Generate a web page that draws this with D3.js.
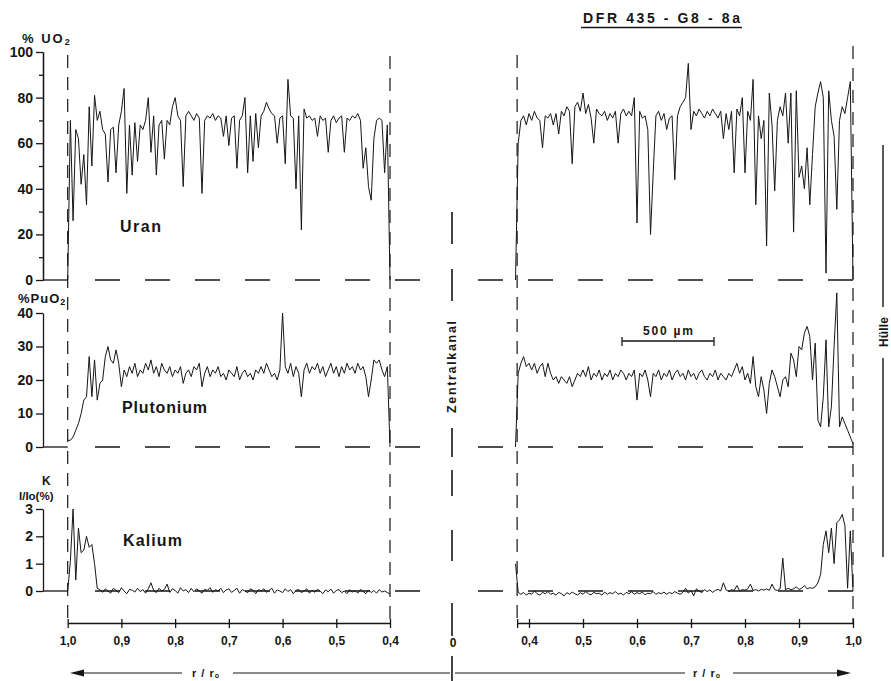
<!DOCTYPE html>
<html>
<head>
<meta charset="utf-8">
<script src="https://cdn.jsdelivr.net/npm/d3@7"></script>
<style>
  body { margin: 0; background: #fff; }
  svg text { font-family: "Liberation Sans", Arial, sans-serif; font-weight: bold; fill: #161616; }
</style>
</head>
<body>
<svg id="chart" width="891" height="681"></svg>
<script>
// Microprobe scans across the fuel pellet cross-section (DFR 435 - G8 - 8a).
// Each scan is sampled at a fixed step of r/r0; left half runs from the rim (1,0)
// inwards to 0,4, right half runs from the central channel edge out to the rim.
const scanStep = 0.005;
const leftStart = 1.0;
const rightStart = 0.375;

// % UO2 (Uran)
const uranLeft = [
  0, 70, 26, 66, 62, 42, 55, 33, 76, 50,
  81, 70, 74, 66, 64, 43, 66, 67, 47, 68,
  74, 84, 38, 68, 46, 69, 52, 68, 66, 70,
  80, 56, 72, 46, 68, 70, 53, 70, 68, 76,
  80, 72, 70, 41, 72, 74, 72, 70, 73, 71,
  38, 70, 72, 71, 73, 70, 72, 71, 63, 72,
  59, 71, 72, 49, 70, 72, 80, 47, 72, 52,
  73, 58, 72, 74, 78, 75, 73, 72, 60, 71,
  72, 51, 88, 72, 71, 40, 72, 22, 75, 71,
  72, 70, 71, 63, 72, 70, 71, 56, 70, 72,
  69, 71, 72, 56, 71, 70, 72, 71, 73, 70,
  49, 58, 41, 35, 62, 70, 71, 70, 47, 68,
  0
];
const uranRight = [
  0, 60, 70, 72, 68, 73, 70, 74, 71, 70,
  58, 72, 71, 73, 68, 73, 64, 74, 72, 76,
  74, 51, 76, 78, 74, 82, 73, 77, 71, 60,
  75, 73, 72, 74, 70, 73, 71, 74, 60, 73,
  75, 72, 74, 72, 80, 25, 74, 71, 72, 66,
  20, 47, 72, 74, 70, 73, 66, 71, 72, 44,
  72, 76, 78, 80, 95, 66, 74, 72, 75, 73,
  71, 74, 72, 75, 73, 71, 74, 62, 73, 66,
  74, 47, 75, 72, 80, 47, 74, 70, 88, 33,
  72, 62, 70, 15, 82, 68, 39, 70, 76, 72,
  82, 60, 82, 21, 83, 45, 50, 40, 58, 33,
  55, 76, 82, 87, 80, 3, 83, 70, 63, 31,
  70, 76, 73, 80, 87, 0
];

// % PuO2 (Plutonium)
const plutLeft = [
  2, 2, 3, 5, 7, 10, 14, 15, 27, 15,
  26, 14, 19, 20, 27, 30, 26, 25, 29, 25,
  18, 23, 21, 24, 22, 25, 21, 23, 22, 25,
  23, 26, 22, 24, 21, 25, 23, 22, 24, 21,
  23, 22, 24, 19, 22, 23, 21, 24, 23, 25,
  18, 22, 24, 21, 23, 22, 24, 21, 22, 20,
  23, 22, 21, 24, 20, 22, 23, 21, 22, 20,
  23, 22, 24, 22, 25, 23, 21, 22, 20, 23,
  40, 24, 22, 25, 21, 24, 22, 15, 23, 25,
  22, 24, 23, 25, 22, 24, 21, 23, 25, 22,
  24, 21, 24, 22, 25, 23, 24, 22, 25, 23,
  24, 21, 15, 20, 26, 25, 26, 23, 21, 24,
  0
];
const plutRight = [
  0, 22, 25, 27, 24, 25, 23, 25, 22, 24,
  25, 21, 25, 22, 20, 21, 19, 21, 20, 19,
  21, 18, 20, 22, 21, 23, 21, 24, 20, 22,
  21, 23, 20, 22, 21, 23, 20, 22, 21, 23,
  22, 20, 22, 21, 23, 14, 22, 21, 23, 20,
  15, 22, 21, 23, 20, 22, 21, 23, 20, 22,
  23, 21, 22, 20, 23, 21, 22, 20, 22, 23,
  21, 20, 22, 21, 23, 20, 22, 21, 20, 22,
  21, 23, 25, 22, 24, 20, 22, 19, 27, 18,
  15, 21, 17, 10, 19, 23, 21, 18, 15, 20,
  21, 18, 28, 26, 21, 30, 29, 34, 36, 33,
  20, 31, 8, 6, 15, 32, 6, 12, 30, 46,
  6, 9, 7, 5, 3, 1
];

// K, I/Io (%) (Kalium)
const kalLeft = [
  0, 1.1, 3.0, 0.4, 2.3, 1.4, 1.5, 2.0, 1.6, 1.7, 1.0, 0.1,
  0.05, -0.05, 0.08, 0.0, -0.08, 0.1, 0.02, -0.06, 0.12, 0.0,
  -0.1, 0.06, 0.03, -0.04, 0.1, -0.02, 0.05, -0.08, 0.08, 0.3,
  0.02, -0.06, 0.1, 0.0, 0.06, 0.25, -0.05, 0.08, 0.02, -0.08,
  0.12, 0.0, 0.05, -0.06, 0.1, -0.03, 0.08, 0.0, -0.08, 0.06,
  0.02, 0.12, -0.05, 0.05, 0.0, 0.1, -0.06, 0.04, 0.08, -0.05,
  0.02, 0.1, -0.08, 0.05, 0.0, -0.06, 0.08, 0.03, -0.1, 0.05,
  0.0, 0.08, -0.05, 0.02, 0.1, -0.08, 0.04, 0.0, -0.06, 0.08,
  -0.02, 0.05, -0.1, 0.02, 0.06, -0.06, 0.0, 0.08, -0.08, 0.03,
  -0.05, 0.06, 0.0, -0.1, 0.04, -0.03, 0.07, -0.08, 0.02, 0.05,
  -0.06, 0.0, -0.1, 0.05, -0.04, 0.02, -0.08, 0.06, -0.02, -0.1,
  0.04, -0.06, 0.02, -0.08, 0.05, -0.04, 0.0, -0.06, -0.1
];
const kalRight = [
  1.0,
  -0.05, -0.12, -0.05, -0.15, -0.08, -0.12, 0.0, -0.1, -0.15, -0.05,
  -0.1, -0.02, -0.12, -0.08, -0.15, -0.05, -0.1, -0.18, -0.06, -0.12,
  -0.04, -0.1, -0.15, -0.06, -0.12, -0.02, -0.1, -0.14, -0.05, -0.1,
  -0.08, -0.15, -0.04, -0.12, -0.06, -0.1, -0.02, -0.12, -0.08, -0.15,
  -0.05, -0.1, -0.03, -0.12, -0.06, -0.1, -0.04, -0.14, -0.08, -0.1,
  -0.02, -0.12, -0.06, -0.1, -0.04, -0.12, -0.05, -0.1, -0.02, -0.08,
  -0.12, -0.05, 0.1, -0.08, 0.02, -0.18, 0.08, 0.0, -0.06, 0.05,
  -0.02, 0.04, -0.05, 0.02, 0.06, 0.0, 0.3, 0.04, -0.02, 0.05,
  0.02, 0.2, 0.0, 0.05, 0.03, 0.08, 0.25, 0.02, 0.05, 0.0,
  0.06, 0.03, 0.08, 0.02, 0.25, 0.05, 0.02, 0.08, 1.2, 0.05,
  0.1, 0.05, 0.08, 0.15, 0.06, 0.1, 0.2, 0.08, 0.12, 0.1,
  0.15, 0.3, 0.6, 1.7, 2.2, 1.4, 2.3, 1.0, 2.5, 2.6,
  2.8, 2.4, 0.1, 2.2, 0.0
];

// Axis ticks
const uranTicks = [0, 20, 40, 60, 80, 100];
const uranMinor = [10, 30, 50, 70, 90];
const plutTicks = [0, 10, 20, 30, 40];
const kalTicks = [0, 1, 2, 3];
const leftRTicks = [1.0, 0.9, 0.8, 0.7, 0.6, 0.5, 0.4];
const rightRTicks = [0.4, 0.5, 0.6, 0.7, 0.8, 0.9, 1.0];
const channelEdge = 0.378;

const ink = "#161616";
const svg = d3.select("#chart");
const commaFmt = d3.formatLocale({decimal: ",", thousands: ".", grouping: [3], currency: ["", ""]}).format(".1f");
const intFmt = d3.format("d");

const xL = d3.scaleLinear().domain([1.0, 0.4]).range([67.7, 390]);
const xR = d3.scaleLinear().domain([0.4, 1.0]).range([529, 853]);

const panels = [
  {name: "Uran", left: uranLeft, right: uranRight, ticks: uranTicks, minor: uranMinor,
   y: d3.scaleLinear().domain([0, 100]).range([280, 52]), label: [120, 232, 41]},
  {name: "Plutonium", left: plutLeft, right: plutRight, ticks: plutTicks, minor: [],
   y: d3.scaleLinear().domain([0, 40]).range([447, 313]), label: [122, 413, 85]},
  {name: "Kalium", left: kalLeft, right: kalRight, ticks: kalTicks, minor: [],
   y: d3.scaleLinear().domain([0, 3]).range([591, 509]), label: [123, 546, 59]}
];

function styleAxis(g, size) {
  g.select(".domain").attr("stroke", ink).attr("stroke-width", 1.3);
  g.selectAll(".tick line").attr("stroke", ink).attr("stroke-width", 1.3);
  g.selectAll(".tick text").attr("font-size", size).attr("fill", ink)
    .attr("font-family", "'Liberation Sans', Arial, sans-serif").attr("font-weight", "bold");
}

// Vertical dashed boundaries: rim and inner scan limits
[[xL(1.0), 55], [xL(0.4), 56], [xR(channelEdge), 55], [xR(1.0), 46]].forEach(([x, top]) => {
  svg.append("line").attr("x1", x).attr("x2", x).attr("y1", top).attr("y2", 623)
    .attr("stroke", ink).attr("stroke-width", 1.2).attr("stroke-dasharray", "13,9");
});

panels.forEach(p => {
  const y0 = p.y(0);
  // y axis
  const ax = svg.append("g").attr("transform", "translate(43,0)")
    .call(d3.axisLeft(p.y).tickValues(p.ticks).tickFormat(intFmt).tickSize(7).tickPadding(3).tickSizeOuter(0));
  styleAxis(ax, 14);
  if (p.minor.length) {
    const mx = svg.append("g").attr("transform", "translate(43,0)")
      .call(d3.axisLeft(p.y).tickValues(p.minor).tickSize(4).tickFormat("").tickSizeOuter(0));
    styleAxis(mx, 14);
  }
  // zero reference: solid to the rim, dashed across the section
  svg.append("line").attr("x1", 43).attr("x2", xL(1.0)).attr("y1", y0).attr("y2", y0)
    .attr("stroke", ink).attr("stroke-width", 1.3);
  svg.append("line").attr("x1", 95).attr("x2", 420).attr("y1", y0).attr("y2", y0)
    .attr("stroke", ink).attr("stroke-width", 1.3).attr("stroke-dasharray", "25,25");
  svg.append("line").attr("x1", 478).attr("x2", 858).attr("y1", y0).attr("y2", y0)
    .attr("stroke", ink).attr("stroke-width", 1.3).attr("stroke-dasharray", "25,25");

  // scan traces
  const lineL = d3.line().x((d, i) => xL(leftStart - i * scanStep)).y(d => p.y(d));
  const lineR = d3.line().x((d, i) => xR(rightStart + i * scanStep)).y(d => p.y(d));
  svg.append("path").datum(p.left).attr("d", lineL).attr("fill", "none")
    .attr("stroke", ink).attr("stroke-width", 1).attr("stroke-linejoin", "round");
  svg.append("path").datum(p.right).attr("d", lineR).attr("fill", "none")
    .attr("stroke", ink).attr("stroke-width", 1).attr("stroke-linejoin", "round");

  svg.append("text").attr("x", p.label[0]).attr("y", p.label[1]).attr("font-size", 16)
    .attr("textLength", p.label[2]).attr("lengthAdjust", "spacing").text(p.name);
});

// x axes (r/r0)
const axL = svg.append("g").attr("transform", "translate(0,623)")
  .call(d3.axisBottom(xL).tickValues(leftRTicks).tickFormat(commaFmt).tickSize(5).tickPadding(8).tickSizeOuter(0));
styleAxis(axL, 12);
axL.selectAll(".tick line").attr("y1", -4);
const xRaxis = xR.copy().domain([channelEdge, 1.0]).range([xR(channelEdge), xR(1.0)]);
const axR = svg.append("g").attr("transform", "translate(0,623)")
  .call(d3.axisBottom(xRaxis).tickValues([channelEdge].concat(rightRTicks))
    .tickFormat(d => d === channelEdge ? "" : commaFmt(d)).tickSize(5).tickPadding(8).tickSizeOuter(0));
styleAxis(axR, 12);
axR.selectAll(".tick line").attr("y1", -4);
svg.append("text").attr("x", 453).attr("y", 647).attr("font-size", 12).attr("text-anchor", "middle").text("0");

// y-axis titles
const uo = svg.append("text").attr("x", 22).attr("y", 43).attr("font-size", 13);
uo.append("tspan").text("% UO").attr("letter-spacing", 2);
uo.append("tspan").text("2").attr("font-size", 9).attr("dy", 2);
const pu = svg.append("text").attr("x", 18).attr("y", 303).attr("font-size", 13);
pu.append("tspan").text("%PuO").attr("letter-spacing", 1);
pu.append("tspan").text("2").attr("font-size", 9).attr("dy", 2);
svg.append("text").attr("x", 42).attr("y", 485).attr("font-size", 12).text("K");
svg.append("text").attr("x", 19).attr("y", 500).attr("font-size", 11.5).text("I/Io(%)");

// title
svg.append("text").attr("x", 583).attr("y", 23).attr("font-size", 14)
  .attr("textLength", 157).attr("lengthAdjust", "spacing").text("DFR 435 - G8 - 8a");
svg.append("line").attr("x1", 581).attr("x2", 742).attr("y1", 27.5).attr("y2", 27.5)
  .attr("stroke", ink).attr("stroke-width", 1.3);

// 500 µm scale bar
svg.append("line").attr("x1", 622).attr("x2", 714).attr("y1", 341).attr("y2", 341).attr("stroke", ink).attr("stroke-width", 1.3);
[622, 714].forEach(x => svg.append("line").attr("x1", x).attr("x2", x).attr("y1", 337).attr("y2", 346)
  .attr("stroke", ink).attr("stroke-width", 1.3));
svg.append("text").attr("x", 643).attr("y", 335).attr("font-size", 12)
  .attr("textLength", 50).attr("lengthAdjust", "spacing").text("500 µm");

// central channel marker
svg.append("line").attr("x1", 452).attr("x2", 452).attr("y1", 212).attr("y2", 304)
  .attr("stroke", ink).attr("stroke-width", 1.6).attr("stroke-dasharray", "32,25");
svg.append("line").attr("x1", 452).attr("x2", 452).attr("y1", 428).attr("y2", 681)
  .attr("stroke", ink).attr("stroke-width", 1.6).attr("stroke-dasharray", "29,13,26,34,31,42,33,20,26");
svg.append("text").attr("transform", "translate(456,413) rotate(-90)").attr("font-size", 12.5)
  .attr("textLength", 92).attr("lengthAdjust", "spacing").text("Zentralkanal");

// cladding marker
svg.append("line").attr("x1", 883).attr("x2", 883).attr("y1", 145).attr("y2", 307).attr("stroke", ink).attr("stroke-width", 1.4);
svg.append("line").attr("x1", 883).attr("x2", 883).attr("y1", 358).attr("y2", 557).attr("stroke", ink).attr("stroke-width", 1.4);
svg.append("text").attr("transform", "translate(888,347) rotate(-90)").attr("font-size", 12)
  .attr("textLength", 30).attr("lengthAdjust", "spacing").text("Hülle");

// direction arrows for r/r0
function rLabel(x) {
  const t = svg.append("text").attr("x", x).attr("y", 677).attr("font-size", 11);
  t.append("tspan").text("r / r").attr("letter-spacing", 1);
  t.append("tspan").text("o").attr("font-size", 7).attr("dy", 1);
}
svg.append("line").attr("x1", 80).attr("x2", 182).attr("y1", 673).attr("y2", 673).attr("stroke", ink).attr("stroke-width", 1);
svg.append("line").attr("x1", 233).attr("x2", 450).attr("y1", 673).attr("y2", 673).attr("stroke", ink).attr("stroke-width", 1);
svg.append("path").attr("d", d3.line()([[70, 673], [84, 669.5], [84, 676.5]]) + "Z").attr("fill", ink);
rLabel(192);
svg.append("line").attr("x1", 455).attr("x2", 685).attr("y1", 673).attr("y2", 673).attr("stroke", ink).attr("stroke-width", 1);
svg.append("line").attr("x1", 733).attr("x2", 840).attr("y1", 673).attr("y2", 673).attr("stroke", ink).attr("stroke-width", 1);
svg.append("path").attr("d", d3.line()([[851, 673], [837, 669.5], [837, 676.5]]) + "Z").attr("fill", ink);
rLabel(693);
</script>
</body>
</html>
